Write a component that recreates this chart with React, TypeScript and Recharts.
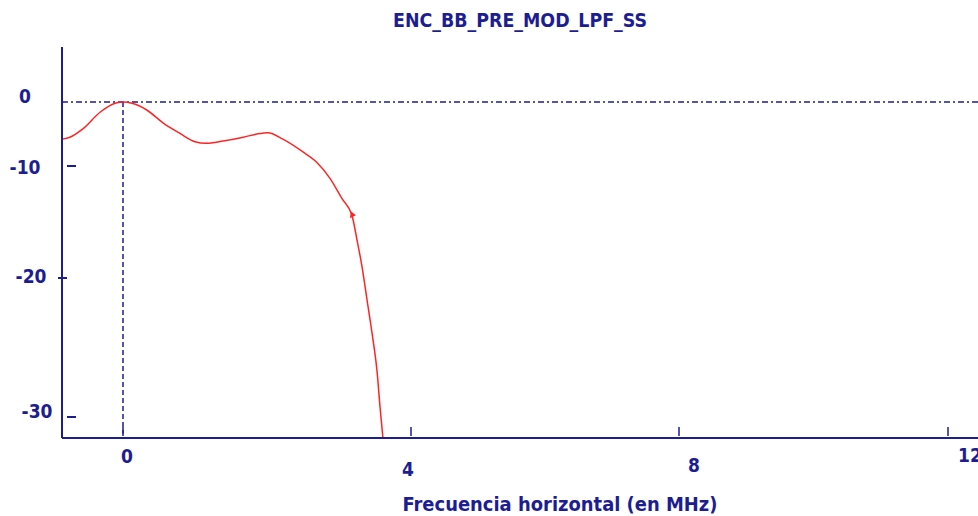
import React from "react";
import {
  LineChart,
  Line,
  XAxis,
  YAxis,
  ReferenceLine,
  ReferenceDot,
} from "recharts";

// values
const freqMHz = [
  -0.85, -0.74, -0.56, -0.32, -0.11, 0, 0.125, 0.33, 0.56, 0.79, 1.0, 1.15,
  1.39, 1.67, 1.86, 2.01, 2.22, 2.5, 2.69, 2.875, 3.04, 3.18, 3.25, 3.32, 3.39,
  3.46, 3.53, 3.57, 3.61,
];
const gainDb = [
  -5.8, -5.5, -4.2, -1.6, -0.2, 0, -0.2, -1.25, -3.3, -4.9, -6.2, -6.45, -6.1,
  -5.5, -5.0, -4.8, -5.8, -7.8, -9.4, -11.1, -12.9, -14.4, -16.6, -19.0, -21.6,
  -24.0, -26.8, -29.3, -31.5,
];
const xTicks = [0, 4, 8, 12];
const yTicks = [0, -10, -20, -30];
const markerIndex = 21;

const NAVY = "#1d1d93";
const RED = "#ff2424";
const FONT = "'DejaVu Sans Condensed', 'DejaVu Sans', sans-serif";

const data = freqMHz.map((f, i) => ({ f, db: gainDb[i] }));

// the old plotter spaced its ticks unevenly, so the axes use a piecewise linear scale
function piecewiseScale(knots: number[], fracs: number[]): any {
  let dom = [knots[0], knots[knots.length - 1]];
  let rng = [0, 1];
  const s: any = (v: number) => {
    let i = 0;
    while (i < knots.length - 2 && v > knots[i + 1]) i++;
    const t = (v - knots[i]) / (knots[i + 1] - knots[i]);
    const fr = fracs[i] + t * (fracs[i + 1] - fracs[i]);
    return rng[0] + fr * (rng[1] - rng[0]);
  };
  s.domain = (d?: number[]) => {
    if (d === undefined) return dom.slice();
    dom = d.slice();
    return s;
  };
  s.range = (r?: number[]) => {
    if (r === undefined) return rng.slice();
    rng = r.slice();
    return s;
  };
  s.copy = () => piecewiseScale(knots, fracs).domain(dom).range(rng);
  s.ticks = () => knots.slice(1, -1);
  s.invert = (px: number) => {
    const fr = (px - rng[0]) / (rng[1] - rng[0]);
    let i = 0;
    while (i < fracs.length - 2 && fr > fracs[i + 1]) i++;
    const t = (fr - fracs[i]) / (fracs[i + 1] - fracs[i]);
    return knots[i] + t * (knots[i + 1] - knots[i]);
  };
  return s;
}

const xScale = piecewiseScale(
  [-0.85, 0, 4, 8, 12, 12.63],
  [0, 61 / 928, 349 / 928, 617 / 928, 886 / 928, 1]
);
const yScale = piecewiseScale(
  [-31.5, -30, -20, -10, 0, 8.6],
  [0, 21 / 391, 160 / 391, 272 / 391, 336 / 391, 1]
);

const yLabelOffset: { [k: number]: [number, number] } = {
  0: [-37, -6.5],
  [-10]: [-37, 0.5],
  [-20]: [-31, -2.5],
  [-30]: [-25, -6.5],
};
const xLabelOffset: { [k: number]: [number, number] } = {
  0: [4, 18],
  4: [-3, 31],
  8: [15, 27],
  12: [22, 17],
};

function YTick(props: any) {
  const { x, y, payload } = props;
  const v = payload.value;
  const [dx, dy] = yLabelOffset[v] || [-30, 0];
  let mark = null;
  if (v === -20) {
    mark = <line x1={x - 4} x2={x + 5} y1={y} y2={y} stroke={NAVY} strokeWidth={2} />;
  } else if (v !== 0) {
    mark = <line x1={x + 5} x2={x + 14} y1={y} y2={y} stroke={NAVY} strokeWidth={2} />;
  }
  return (
    <g>
      {mark}
      <text
        x={x + dx}
        y={y + dy + 7}
        textAnchor="middle"
        fill={NAVY}
        fontFamily={FONT}
        fontWeight="bold"
        fontSize={19}
      >
        {v}
      </text>
    </g>
  );
}

function XTick(props: any) {
  const { x, y, payload } = props;
  const v = payload.value;
  const [dx, dy] = xLabelOffset[v] || [0, 20];
  return (
    <g>
      <line x1={x} x2={x} y1={y - 11} y2={y - 2} stroke={NAVY} strokeWidth={1.5} />
      <text
        x={x + dx}
        y={y + dy + 7}
        textAnchor="middle"
        fill={NAVY}
        fontFamily={FONT}
        fontWeight="bold"
        fontSize={19}
      >
        {v}
      </text>
    </g>
  );
}

function Marker(props: any) {
  const { cx, cy } = props;
  return <path d={`M${cx - 2},${cy + 3} L${cx - 1},${cy - 4} L${cx + 4},${cy} Z`} fill={RED} />;
}

export default function App() {
  return (
    <div
      style={{
        position: "absolute",
        left: 0,
        top: 0,
        width: 978,
        height: 516,
        overflow: "hidden",
        background: "#fff",
      }}
    >
      <LineChart
        width={1000}
        height={516}
        data={data}
        margin={{ top: 47, right: 10, bottom: 0, left: 0 }}
      >
        <XAxis
          xAxisId="top"
          orientation="top"
          type="number"
          dataKey="f"
          domain={[-0.85, 12.63]}
          height={0}
          tick={false}
          tickLine={false}
          axisLine={{ stroke: NAVY, strokeWidth: 2 }}
        />
        <XAxis
          type="number"
          dataKey="f"
          scale={xScale}
          domain={[-0.85, 12.63]}
          ticks={xTicks}
          interval={0}
          height={78}
          tickSize={0}
          tickMargin={0}
          tickLine={false}
          tick={<XTick />}
          axisLine={{ stroke: NAVY, strokeWidth: 2 }}
        />
        <YAxis
          type="number"
          scale={yScale}
          domain={[-31.5, 8.6]}
          ticks={yTicks}
          interval={0}
          width={62}
          tickSize={0}
          tickMargin={0}
          tickLine={false}
          tick={<YTick />}
          axisLine={{ stroke: NAVY, strokeWidth: 2 }}
        />
        <ReferenceLine y={0} stroke={NAVY} strokeWidth={1.5} strokeDasharray="6 3 2 3" />
        <ReferenceLine
          segment={[
            { x: 0, y: 0 },
            { x: 0, y: -31.2 },
          ]}
          stroke={NAVY}
          strokeWidth={1.5}
          strokeDasharray="5 3"
        />
        <Line
          type="monotone"
          dataKey="db"
          stroke={RED}
          strokeWidth={1.5}
          dot={false}
          isAnimationActive={false}
        />
        <ReferenceDot
          x={freqMHz[markerIndex]}
          y={gainDb[markerIndex]}
          r={3}
          shape={<Marker />}
        />
      </LineChart>
      <svg
        width={978}
        height={516}
        style={{ position: "absolute", left: 0, top: 0, pointerEvents: "none" }}
      >
        <text
          x={520}
          y={27}
          textAnchor="middle"
          fill={NAVY}
          fontFamily={FONT}
          fontWeight="bold"
          fontSize={19}
          textLength={254}
          lengthAdjust="spacingAndGlyphs"
        >
          ENC_BB_PRE_MOD_LPF_SS
        </text>
        <text
          x={560}
          y={511}
          textAnchor="middle"
          fill={NAVY}
          fontFamily={FONT}
          fontWeight="bold"
          fontSize={19}
          textLength={315}
          lengthAdjust="spacingAndGlyphs"
        >
          Frecuencia horizontal (en MHz)
        </text>
      </svg>
    </div>
  );
}
